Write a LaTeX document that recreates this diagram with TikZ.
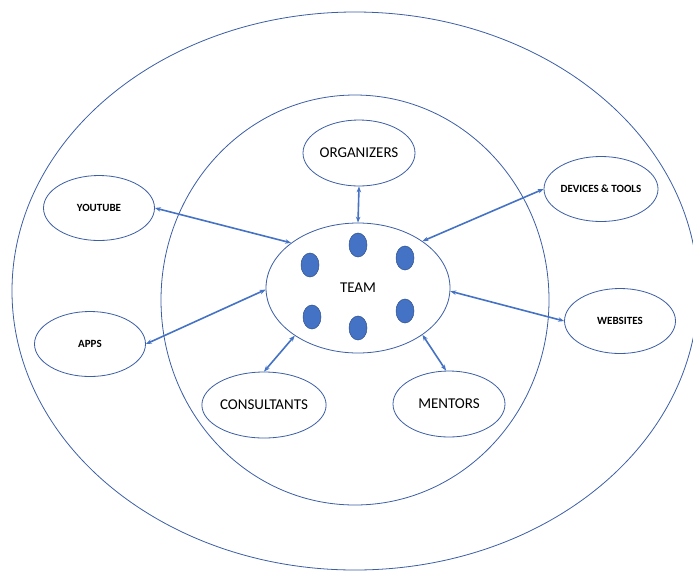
\documentclass[tikz,border=0pt]{standalone}
\usepackage{fontspec}
\setmainfont{Carlito}
\usetikzlibrary{shapes.geometric,arrows.meta}
\definecolor{ringblue}{HTML}{3B5EA6}
\definecolor{linkblue}{HTML}{4472C4}
\definecolor{dotedge}{HTML}{2F528F}

\begin{document}
\begin{tikzpicture}[x=1pt,y=-1pt,
    ring/.style={draw=ringblue, line width=0.8pt},
    inner/.style={ellipse, draw=ringblue, line width=0.8pt, fill=white,
        minimum width=112pt, minimum height=66pt, inner sep=0pt,
        font=\fontsize{15}{18}\selectfont},
    outer/.style={ellipse, draw=ringblue, line width=0.8pt, fill=white,
        minimum width=111pt, minimum height=65pt, inner sep=0pt,
        font=\fontsize{11}{13}\selectfont\bfseries},
    member/.style={ellipse, fill=linkblue, draw=dotedge, line width=0.5pt,
        minimum width=18pt, minimum height=24pt, inner sep=0pt},
    link/.style={<->, >={Stealth[length=6pt,width=4.5pt]}, draw=linkblue, line width=1.6pt}]
    \useasboundingbox (0,0) rectangle (693,571);

    % the two rings
    \draw[ring] (355,291) ellipse [x radius=343, y radius=279];
    \draw[ring] (355,300) ellipse [x radius=194, y radius=205];

    % team with its members
    \node[inner, minimum width=184pt, minimum height=130pt] (team) at (358,288) {TEAM};
    \node[member] (m1) at (310,265) {};
    \node[member] (m2) at (358,245) {};
    \node[member] (m3) at (405,258) {};
    \node[member] (m4) at (312,317) {};
    \node[member] (m5) at (358,328) {};
    \node[member] (m6) at (405,311) {};

    % inner ring
    \node[inner] (organizers) at (359,153) {ORGANIZERS};
    \node[inner] (consultants) at (264,405) {CONSULTANTS};
    \node[inner] (mentors) at (449,404) {MENTORS};

    % outer ring
    \node[outer] (youtube) at (99,208) {YOUTUBE};
    \node[outer] (apps) at (90,344) {APPS};
    \node[outer] (devices) at (601,189) {DEVICES \& TOOLS};
    \node[outer] (websites) at (620,321) {WEBSITES};

    \draw[link] (organizers.south) -- (team.north);
    \draw[link] (youtube.east) -- (team.146);
    \draw[link] (apps.east) -- (team.181);
    \draw[link] (devices.west) -- (team.36);
    \draw[link] (websites.west) -- (team.-2);
    \draw[link] (consultants.north) -- (team.217);
    \draw[link] (mentors.95) -- (team.-36);
\end{tikzpicture}
\end{document}
